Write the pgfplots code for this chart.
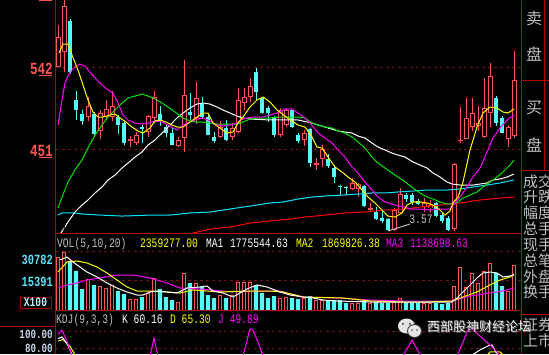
\documentclass[border=0pt]{standalone}
\usepackage{pgfplots}
\pgfplotsset{compat=1.18}
\usepackage{pgfplotstable}
\usepackage{fontspec}
\setmainfont{Liberation Sans}
\newfontfamily\mono[FakeStretch=0.74]{Liberation Mono}
\newfontfamily\cjk{Noto Sans CJK SC}
\newcommand{\mf}[1]{\fontsize{#1}{#1}\selectfont\mono}
\definecolor{kred}{RGB}{255,84,84}
\definecolor{kcyan}{RGB}{84,252,252}
\definecolor{gridred}{RGB}{120,20,20}
\definecolor{frame}{RGB}{176,0,0}
\definecolor{mgreen}{RGB}{0,230,0}
\definecolor{mmag}{RGB}{255,0,255}
\definecolor{myel}{RGB}{255,255,0}
\definecolor{lgray}{RGB}{192,192,192}
\definecolor{volblue}{RGB}{90,225,250}
\definecolor{kdjlab}{RGB}{200,212,232}
\definecolor{ma60}{RGB}{0,230,255}
\definecolor{ma120}{RGB}{255,0,0}

\pgfplotstableread{
x lo hi bot top
58 542 589 542 575
64 536 620 559 610
88 482 509 487 499
100 462 494 471 491
106 483 505 487 495
112 482 515 487 499
130 453 465 460 462
136 456 470 458 467
148 464 489 470 488
154 480 515 485 509
178 453 464 454 461
184 448 550 463 511
196 479 525 485 508
220 463 482 464 475
232 461 480 464 474
238 469 519 470 505
244 494 519 502 509
250 503 530 509 521
280 464 497 467 494
286 475 497 478 494
304 454 472 461 469
316 428 441 433 435
322 431 455 440 451
352 405 419 407 413
358 398 413 407 412
370 381 391 384 385
394 360 385 361 383
400 380 408 380 401
424 381 397 387 391
430 380 394 385 389
454 360 435 362 434
460 458 498 460 461
466 462 508 462 485
472 471 508 475 491
478 471 499 477 480
484 463 530 464 496
490 475 546 491 532
508 453 478 462 475
514 463 560 465 528
}\redc

\pgfplotstableread{
x lo hi bot top
70 534 595 536 593
76 483 515 494 505
82 478 494 482 490
94 464 492 468 490
118 468 489 478 487
124 456 482 458 480
142 458 478 474 475
160 477 499 482 490
166 464 479 469 475
172 455 474 456 469
190 483 513 489 492
202 484 509 487 501
208 466 491 467 487
214 458 470 460 464
226 460 483 461 474
256 505 541 514 536
262 490 509 491 508
268 481 499 491 497
274 464 488 467 487
292 474 495 475 494
298 458 469 460 467
310 431 474 435 473
328 430 445 432 440
334 413 433 420 430
340 400 411 409 410
346 400 410 408 409
364 387 411 388 410
376 372 387 373 381
382 369 383 371 374
388 360 374 361 373
406 392 402 396 400
412 389 402 392 400
418 389 396 390 393
436 376 392 377 391
442 369 380 371 378
448 360 377 361 374
496 477 510 480 508
502 469 488 469 485
}\cyanc

\pgfplotstableread{
x v
58 27650
64 30259
88 16173
100 12521
106 11477
112 13043
130 5739
136 5739
148 8869
154 16694
178 4174
184 19303
196 14086
220 7826
232 7826
238 14608
244 14608
250 14608
280 6260
286 6782
304 6260
316 5217
322 5217
352 3652
358 3652
370 3652
394 4174
400 6260
424 3652
430 3652
454 12521
460 22433
466 11999
472 19303
478 14086
484 20346
490 24520
508 9912
514 23477
}\volr

\pgfplotstableread{
x v
70 25563
76 20346
82 10956
94 13043
118 9912
124 8347
142 6782
160 10956
166 6782
172 5217
190 14086
202 11999
208 7826
214 6260
226 6260
256 13043
262 8869
268 6260
274 7304
292 6260
298 5739
310 7304
328 5217
334 5217
340 5217
346 3652
364 5217
376 4174
382 3652
388 3652
406 3652
412 3652
418 3652
436 3652
442 3130
448 3652
496 19303
502 12521
}\volc

\pgfplotsset{
  panel/.style={scale only axis, anchor=south west, width=465pt, xmin=56, xmax=521,
    axis line style={draw=none}, tick style={draw=none}, xtick=\empty,
    yticklabels={}, ymajorgrids, grid style={gridred, dash pattern=on 3pt off 3pt, line width=0.8pt},
    clip=true},
  wick/.style={forget plot, draw=none, mark=none, error bars/.cd, y dir=plus, y explicit,
    error mark=none, error bar style={draw=#1, line width=1pt}},
  body/.style 2 args={forget plot, draw=none, mark=none, error bars/.cd, y dir=both, y explicit,
    error mark=none, error bar style={draw=#1, line width=#2}},
  ma/.style={forget plot, sharp plot, line width=1pt, draw=#1, mark=none},
}

\begin{document}
\begin{tikzpicture}[x=1pt,y=1pt]
\useasboundingbox (0,0) rectangle (549,354);
\clip (0,0) rectangle (549,354);
\fill[black] (0,0) rectangle (549,354);

% ---------------- price panel
\begin{axis}[panel, at={(56pt,121pt)}, height=233pt, ymin=357.8, ymax=616.35, ytick={451,542}]
\addplot[wick=kred] table[x=x, y=lo, y error expr={\thisrow{hi}-\thisrow{lo}}]{\redc};
\addplot[body={kred}{5pt}] table[x=x, y expr={0.5*(\thisrow{bot}+\thisrow{top})}, y error expr={max(0.5*(\thisrow{top}-\thisrow{bot}),0.55)}]{\redc};
\addplot[body={black}{3pt}] table[x=x, y expr={0.5*(\thisrow{bot}+\thisrow{top})}, y error expr={max(0.5*(\thisrow{top}-\thisrow{bot})-1.11,0)}]{\redc};
\addplot[wick=kcyan] table[x=x, y=lo, y error expr={\thisrow{hi}-\thisrow{lo}}]{\cyanc};
\addplot[body={kcyan}{4.5pt}] table[x=x, y expr={0.5*(\thisrow{bot}+\thisrow{top})}, y error expr={max(0.5*(\thisrow{top}-\thisrow{bot}),0.55)}]{\cyanc};
% MA120 red
\addplot[ma=ma120] coordinates {(193,357.8)(210,362.2)(230,364.4)(250,368.9)(270,371.1)(290,373.3)(305,375.5)(325,377.7)(345,380.0)(365,381.1)(385,383.3)(405,384.4)(420,386.6)(440,388.8)(460,391.1)(480,394.4)(500,396.6)(514,397.7)};
% MA60 cyan
\addplot[ma=ma60] coordinates {(58,377.7)(62,380.0)(75,380.0)(82,378.9)(100,377.7)(122,376.6)(152,377.7)(170,377.7)(190,380.0)(210,381.1)(230,384.4)(243,386.6)(257,388.8)(270,391.1)(283,392.2)(298,395.5)(312,397.7)(325,398.8)(345,400.0)(358,401.0)(372,402.2)(385,402.2)(398,403.3)(413,404.4)(427,405.5)(447,405.5)(460,406.6)(473,408.8)(487,411.0)(500,413.3)(514,416.6)};
% MA30 white
\addplot[ma=white] coordinates {(61,357.8)(68,370.0)(75,381.1)(82,388.8)(88,394.4)(95,402.2)(102,408.8)(108,416.6)(115,422.1)(122,429.9)(128,435.4)(135,442.1)(142,447.7)(148,455.4)(155,461.0)(162,468.7)(168,475.4)(172,479.8)(177,485.4)(183,490.9)(190,496.5)(197,500.9)(203,502.0)(210,500.9)(217,497.6)(223,494.3)(230,490.9)(237,487.6)(243,485.4)(250,484.3)(270,483.2)(298,483.2)(312,479.8)(325,475.4)(338,471.0)(352,468.7)(358,465.4)(365,463.2)(372,457.6)(378,453.2)(385,449.9)(392,446.5)(398,444.3)(405,442.1)(413,436.6)(420,433.2)(427,429.9)(433,424.4)(440,419.9)(447,414.4)(452,412.2)(460,411.0)(473,411.0)(487,413.3)(493,416.6)(500,417.7)(507,419.9)(514,423.3)};
% MA20 green
\addplot[ma=mgreen] coordinates {(58,385.5)(62,397.7)(68,414.4)(75,427.7)(82,438.8)(88,452.1)(95,466.5)(102,477.6)(108,486.5)(115,494.3)(122,502.0)(128,507.6)(135,509.8)(142,512.0)(148,509.8)(155,506.5)(162,502.0)(168,497.6)(175,492.0)(183,485.4)(190,482.1)(197,480.9)(203,480.9)(210,479.8)(217,478.7)(237,478.7)(243,480.9)(250,484.3)(257,485.4)(270,485.4)(280,486.5)(298,486.5)(305,485.4)(312,479.8)(318,477.6)(325,475.4)(332,474.3)(338,471.0)(345,468.7)(352,464.3)(358,458.8)(365,452.1)(372,442.1)(378,435.4)(385,429.9)(392,424.4)(398,419.9)(404,415.5)(413,407.7)(420,402.2)(427,397.7)(433,395.5)(440,392.2)(447,390.0)(453,390.0)(458,392.2)(463,396.6)(470,400.0)(477,403.3)(483,408.8)(490,414.4)(497,419.9)(503,425.5)(510,433.2)(514,438.8)};
% MA10 magenta
\addplot[ma=mmag] coordinates {(58,477.6)(62,505.4)(65,524.2)(70,536.4)(75,542.0)(80,545.3)(85,543.1)(90,536.4)(95,529.8)(102,522.0)(108,516.5)(113,513.1)(118,502.0)(123,488.7)(128,483.2)(135,479.8)(142,478.7)(148,479.8)(155,482.1)(162,480.9)(168,477.6)(173,474.3)(177,472.1)(183,477.6)(190,480.9)(197,484.3)(203,485.4)(210,482.1)(217,477.6)(223,476.5)(230,477.6)(237,479.8)(243,484.3)(253,486.5)(263,486.5)(270,488.7)(277,490.9)(285,495.4)(292,495.4)(298,490.9)(305,485.4)(312,477.6)(318,468.7)(325,463.2)(332,457.6)(338,449.9)(345,442.1)(352,431.0)(358,424.4)(365,414.4)(372,405.5)(378,397.7)(385,392.2)(392,390.0)(398,387.7)(405,386.6)(410,384.4)(420,384.4)(430,383.3)(440,384.4)(450,384.4)(455,391.1)(460,397.7)(467,408.8)(473,419.9)(480,429.9)(487,447.7)(493,463.2)(500,474.3)(507,483.2)(514,488.7)};
% MA5 yellow
\addplot[ma=myel] coordinates {(59,557.5)(63,567.5)(68,567.5)(72,555.3)(78,538.7)(83,522.0)(88,505.4)(93,492.0)(98,486.5)(103,486.5)(110,488.7)(115,489.8)(120,485.4)(126,480.9)(132,475.4)(138,471.0)(143,468.7)(150,474.3)(155,482.1)(160,483.2)(166,480.9)(172,477.6)(177,475.4)(183,475.4)(190,480.9)(197,486.5)(203,490.9)(208,490.9)(213,479.8)(220,474.3)(227,468.7)(233,469.9)(238,479.8)(243,486.5)(250,497.6)(257,505.4)(263,508.7)(270,503.2)(277,494.3)(285,487.6)(292,482.1)(298,477.6)(305,475.4)(312,464.3)(317,453.2)(322,452.1)(328,442.1)(335,431.0)(342,425.5)(348,419.9)(355,414.4)(362,405.5)(368,397.7)(375,391.1)(382,383.3)(388,376.6)(395,375.5)(402,380.0)(407,388.8)(413,392.2)(420,392.2)(427,391.1)(433,388.8)(440,383.3)(445,377.7)(450,382.2)(453,391.1)(458,397.7)(463,414.4)(470,449.9)(477,475.4)(483,490.9)(490,497.6)(497,496.5)(503,492.0)(508,490.9)(514,495.4)};
% low marker line
\addplot[ma=lgray] coordinates {(388,360.0)(410,367.8)};
\end{axis}

% ---------------- volume panel
\begin{axis}[panel, at={(56pt,44pt)}, height=77pt, ymin=0, ymax=40171, ytick={15391,30782}]
\addplot[ybar, bar width=3.6pt, bar shift=0pt, draw=kred, fill=black, line width=1pt] table[x=x,y=v]{\volr};
\addplot[ybar, bar width=4.4pt, bar shift=0pt, draw=none, fill=kcyan] table[x=x,y=v]{\volc};
\addplot[ma=mmag] coordinates {(58,11477)(67,13043)(77,14086)(87,15651)(100,16694)(117,18260)(133,18260)(150,16694)(167,14086)(180,11477)(200,10956)(233,9391)(253,9912)(280,9912)(287,8869)(303,6782)(337,6260)(370,5217)(403,4695)(452,4695)(470,7304)(490,8869)(503,9912)(514,11477)};
\addplot[ma=myel] coordinates {(58,19825)(67,25042)(77,25563)(87,24520)(97,22433)(107,19303)(117,15651)(127,11999)(137,9912)(150,9912)(167,9391)(180,8869)(193,10434)(207,9912)(220,9391)(247,9912)(270,9912)(283,9391)(303,6782)(343,6260)(370,4695)(403,4174)(427,4174)(452,4695)(463,6782)(477,9391)(490,13043)(500,15651)(510,17216)(514,18781)};
\addplot[ma=white] coordinates {(60,26085)(67,27650)(73,25042)(80,22433)(87,19825)(97,17216)(107,14086)(117,11477)(127,9391)(137,7826)(143,7826)(150,9391)(157,9912)(167,9391)(177,8869)(187,11477)(200,11999)(207,12521)(213,9912)(223,8869)(233,6782)(240,8869)(247,10956)(257,13043)(267,11999)(280,9391)(290,7826)(303,6782)(313,6260)(323,5217)(337,4695)(370,4174)(452,4174)(457,6260)(463,9391)(470,13043)(477,16694)(483,19303)(490,19825)(497,19303)(503,17216)(510,17738)(514,18260)};
\end{axis}

% ---------------- KDJ panel
\begin{axis}[panel, at={(56pt,0pt)}, height=27pt, ymin=72.9, ymax=104.7, ytick={80,100}]
\addplot[ma=myel] coordinates {(58,88)(63,90)(70,82)(76,70)(486,70)(490,75.3)(500,75.3)(505,70)};
\addplot[ma=white] coordinates {(58,91)(62,93)(67,85)(73,70)(470,70)(480,77.7)(488,82.4)(492,83.5)(497,73)(500,70)};
\addplot[ma=mmag] coordinates {(58,96)(62,101)(67,88)(72,70)(150,70)(154,91.8)(158,70)(243,70)(250,102.4)(253,101)(259,84)(263,70)(403,70)(412,89.4)(421,70)(457,70)(468,101.2)(472,102.4)(490,83.5)(497,75.3)(500,70)};
\end{axis}

% ---------------- frames
\draw[frame, line width=1pt] (55.5,0) -- (55.5,354);
\draw[frame, line width=1pt] (521,0) -- (521,354);
\draw[frame, line width=1pt] (544.5,183) -- (544.5,354);
\draw[frame, line width=1pt] (55,121) -- (521,121);
\draw[frame, line width=1pt] (55,44) -- (521,44);
\draw[frame, line width=1pt] (0,28) -- (55,28);
\draw[frame, line width=1pt] (521,273) -- (549,273);
\draw[frame, line width=1pt] (521,183) -- (549,183);
\draw[frame, line width=1pt] (521,40) -- (549,40);
\draw[frame, line width=1pt] (20,46) rectangle (51,57);
\draw[kred, line width=1pt] (39,278) -- (52,278);
\draw[kred, line width=1pt] (39,196) -- (52,196);
\draw[kred, line width=1pt] (39,353) -- (52,353);

% ---------------- left labels
\node[anchor=east, inner sep=0, text=kred] at (53,285) {\mf{17}\bfseries 542};
\node[anchor=east, inner sep=0, text=kred] at (53,203) {\mf{17}\bfseries 451};
\node[anchor=east, inner sep=0, text=volblue] at (53,94) {\mf{14}\bfseries 30782};
\node[anchor=east, inner sep=0, text=volblue] at (53,72) {\mf{14}\bfseries 15391};
\node[inner sep=0, text=volblue!40!white] at (35.5,51.5) {\mf{13}\bfseries X100};
\node[anchor=east, inner sep=0, text=kdjlab] at (53,19.5) {\mf{12.5}\bfseries 100.00};
\node[anchor=east, inner sep=0, text=kdjlab] at (53,5.5) {\mf{12.5}\bfseries 80.00};

% ---------------- header texts
\node[anchor=base west, inner sep=0, text=lgray] at (57,107) {\mf{13}VOL(5,10,20)};
\node[anchor=base west, inner sep=0, text=myel] at (140,107) {\mf{13}2359277.00};
\node[anchor=base west, inner sep=0, text=white] at (206,107) {\mf{13}MA1};
\node[anchor=base west, inner sep=0, text=white] at (230,107) {\mf{13}1775544.63};
\node[anchor=base west, inner sep=0, text=myel] at (296,107) {\mf{13}MA2};
\node[anchor=base west, inner sep=0, text=myel] at (322,107) {\mf{13}1869826.38};
\node[anchor=base west, inner sep=0, text=mmag] at (386,107) {\mf{13}MA3};
\node[anchor=base west, inner sep=0, text=mmag] at (410,107) {\mf{13}1138698.63};
\node[anchor=base west, inner sep=0, text=lgray] at (56,31) {\mf{13}KDJ(9,3,3)};
\node[anchor=base west, inner sep=0, text=white] at (122,31) {\mf{13}K 60.16};
\node[anchor=base west, inner sep=0, text=myel] at (170,31) {\mf{13}D 65.30};
\node[anchor=base west, inner sep=0, text=mmag] at (218,31) {\mf{13}J 49.89};
\node[anchor=center, inner sep=0, text=lgray] at (421,135) {\mf{13}3.57};

% ---------------- right panel
\begin{scope}[every node/.style={inner sep=0, text=lgray}]
\node at (534,335.5) {\fontsize{16}{16}\selectfont\cjk 卖};
\node at (534,299.5) {\fontsize{16}{16}\selectfont\cjk 盘};
\node at (534,246) {\fontsize{16}{16}\selectfont\cjk 买};
\node at (534,209) {\fontsize{16}{16}\selectfont\cjk 盘};
\node[anchor=west] at (523,172.5) {\fontsize{15}{15}\selectfont\cjk 成交};
\node[anchor=west] at (523,156.7) {\fontsize{15}{15}\selectfont\cjk 升跌};
\node[anchor=west] at (523,140.9) {\fontsize{15}{15}\selectfont\cjk 幅度};
\node[anchor=west] at (523,125.1) {\fontsize{15}{15}\selectfont\cjk 总手};
\node[anchor=west] at (523,109.3) {\fontsize{15}{15}\selectfont\cjk 现手};
\node[anchor=west] at (523,93.5) {\fontsize{15}{15}\selectfont\cjk 总笔};
\node[anchor=west] at (523,77.7) {\fontsize{15}{15}\selectfont\cjk 外盘};
\node[anchor=west] at (523,61.9) {\fontsize{15}{15}\selectfont\cjk 换手};
\node[anchor=west] at (523,29) {\fontsize{15}{15}\selectfont\cjk 证券};
\node[anchor=west] at (523,13) {\fontsize{15}{15}\selectfont\cjk 上市};
\end{scope}

% ---------------- watermark
\fill[white!80!gray] (406.5,28) ellipse (8.5 and 7.5);
\draw[black!80, line width=0.8pt, fill=white!80!gray] (414.5,23) ellipse (7 and 6.5);
\fill[black!70] (403,30) circle (1.1) (410,30) circle (1.1) (412,24) circle (0.9) (417,24) circle (0.9);
\node[anchor=west, inner sep=0, text=black!60] at (428,26) {\fontsize{13}{13}\selectfont\cjk 西部股神财经论坛};
\node[anchor=west, inner sep=0, text=white!90!gray] at (427,27) {\fontsize{13}{13}\selectfont\cjk 西部股神财经论坛};
\end{tikzpicture}
\end{document}
